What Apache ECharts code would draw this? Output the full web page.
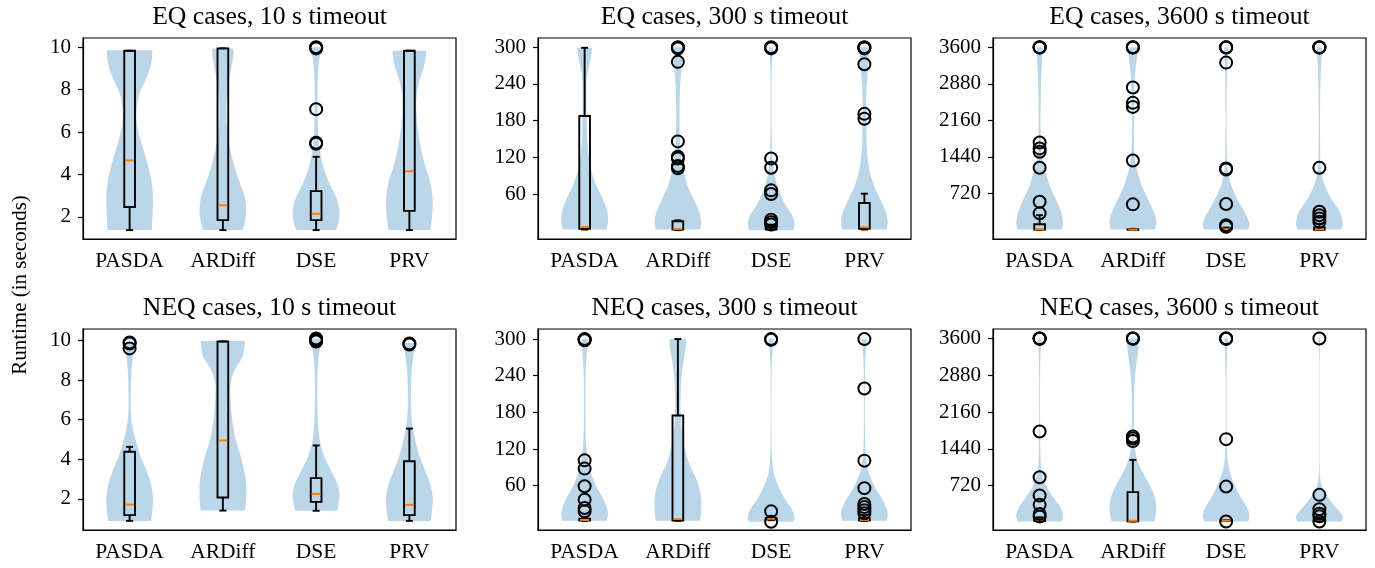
<!DOCTYPE html>
<html>
<head>
<meta charset="utf-8">
<script src="https://cdn.jsdelivr.net/npm/echarts@6/dist/echarts.min.js"></script>
<style>html,body{margin:0;padding:0;background:#fff}#c{width:1375px;height:568px}</style>
</head>
<body>
<div id="c"></div>
<script>
// ---------- data ----------
const tools = ['PASDA', 'ARDiff', 'DSE', 'PRV'];
const titles = ['EQ cases, 10 s timeout', 'EQ cases, 300 s timeout', 'EQ cases, 3600 s timeout',
                'NEQ cases, 10 s timeout', 'NEQ cases, 300 s timeout', 'NEQ cases, 3600 s timeout'];
const yLabel = 'Runtime (in seconds)';
const ticks10 = [2, 4, 6, 8, 10];
const ticks300 = [60, 120, 180, 240, 300];
const ticks3600 = [720, 1440, 2160, 2880, 3600];

// box stats per tool: [low whisker, Q1, median, Q3, high whisker]
const boxEQ10 = [[1.37, 2.46, 4.66, 9.84, 9.84], [1.37, 1.84, 2.54, 9.95, 9.95], [1.37, 1.84, 2.14, 3.21, 4.83], [1.37, 2.28, 4.15, 9.84, 9.84]];
const boxEQ300 = [[2, 3, 6, 187.6, 299], [1, 2, 3, 15.5, 17], [1, 2, 4, 6, 10], [2, 3, 5.7, 45.4, 60.6]];
const boxEQ3600 = [[0, 5, 12, 110, 290], [0, 2, 5, 10, 20], [2, 6, 12, 22, 45], [0, 3, 10, 50, 120]];
const boxNEQ10 = [[0.89, 1.18, 1.71, 4.38, 4.63], [1.41, 2.07, 4.95, 9.95, 9.95], [1.4, 1.85, 2.25, 3.05, 4.7], [0.89, 1.18, 1.7, 3.9, 5.55]];
const boxNEQ300 = [[2.6, 3, 4, 6, 9], [2.6, 3, 5.4, 175, 300], [4, 5, 6, 7, 9], [2.6, 3, 4, 7, 12]];
const boxNEQ3600 = [[15, 25, 45, 60, 100], [15, 20, 30, 591, 1223], [28, 30, 32, 35, 40], [20, 25, 40, 60, 90]];

// outliers per tool
const outEQ10 = [[], [], [9.95, 9.98, 10.0, 7.08, 5.45, 5.5], []];
const outEQ300 = [[], [300, 299, 298, 276, 146, 121, 118, 106, 102], [300, 299, 298, 118, 103, 66, 60, 18, 14, 10], [300, 299, 298, 272, 191, 183]];
const outEQ3600 = [[3600, 3598, 3595, 1724, 1606, 1540, 1224, 555, 326], [3600, 3598, 3595, 2806, 2504, 2425, 1369, 503], [3600, 3598, 3595, 3298, 1212, 1190, 510, 90, 60], [3600, 3598, 3595, 1224, 358, 290, 225, 160]];
const outNEQ10 = [[9.9, 9.85, 9.6], [], [10.1, 10.05, 10.0, 9.95], [9.85, 9.8]];
const outNEQ300 = [[300, 299, 298, 101.5, 88, 59, 37, 23.5, 18], [], [300, 299, 18, 1], [300, 219, 101, 56, 30, 25, 20, 15]];
const outNEQ3600 = [[3600, 3598, 3595, 1778, 884, 524, 342, 165, 112], [3600, 3598, 3595, 1680, 1640, 1590], [3600, 3598, 3595, 1629, 700, 15], [3600, 538, 257, 170, 120, 15]];

// violin outlines: [value, relative half-width]
const violinEQ10 = [
  [[1.37, 0.95], [2, 0.98], [2.8, 1.0], [3.6, 0.95], [4.7, 0.72], [5.5, 0.5], [6.3, 0.33], [7, 0.3], [7.8, 0.42], [8.5, 0.7], [9.2, 0.92], [9.86, 0.98]],
  [[1.37, 0.85], [1.8, 0.95], [2.3, 1.0], [3, 0.92], [4, 0.6], [5, 0.35], [6, 0.2], [7, 0.15], [8, 0.2], [9, 0.35], [9.6, 0.45], [9.95, 0.45]],
  [[1.37, 0.85], [1.7, 0.95], [2.2, 1.0], [2.8, 0.9], [3.5, 0.6], [4.2, 0.35], [5, 0.18], [5.5, 0.12], [6.5, 0.07], [7.5, 0.06], [8.5, 0.07], [9.3, 0.12], [9.8, 0.2], [10.0, 0.18]],
  [[1.37, 0.9], [2, 0.97], [2.8, 1.0], [3.6, 0.9], [4.5, 0.65], [5.5, 0.45], [6.5, 0.33], [7.5, 0.3], [8.3, 0.4], [9, 0.6], [9.5, 0.7], [9.84, 0.72]]
];
const violinEQ300 = [
  [[2, 0.95], [15, 1.0], [30, 0.98], [50, 0.8], [70, 0.55], [90, 0.35], [110, 0.22], [140, 0.13], [180, 0.09], [220, 0.08], [250, 0.1], [280, 0.25], [299, 0.33]],
  [[2, 0.95], [15, 1.0], [30, 0.92], [50, 0.7], [70, 0.45], [90, 0.3], [110, 0.18], [140, 0.1], [180, 0.07], [220, 0.08], [250, 0.12], [280, 0.18], [300, 0.2]],
  [[1, 0.95], [12, 1.0], [25, 0.9], [40, 0.65], [55, 0.45], [70, 0.3], [90, 0.15], [110, 0.08], [130, 0.04], [180, 0.02], [240, 0.02], [280, 0.05], [295, 0.08], [300, 0.08]],
  [[2, 0.95], [15, 1.0], [30, 0.92], [50, 0.7], [70, 0.45], [90, 0.28], [110, 0.17], [140, 0.1], [180, 0.08], [220, 0.08], [250, 0.12], [280, 0.18], [300, 0.2]]
];
const violinEQ3600 = [
  [[5, 0.95], [150, 1.0], [350, 0.92], [600, 0.7], [850, 0.45], [1100, 0.28], [1300, 0.15], [1500, 0.08], [1800, 0.05], [2200, 0.04], [2600, 0.05], [3000, 0.07], [3300, 0.1], [3600, 0.12]],
  [[5, 0.95], [150, 1.0], [350, 0.9], [600, 0.65], [850, 0.4], [1100, 0.22], [1300, 0.12], [1500, 0.07], [1800, 0.04], [2200, 0.04], [2600, 0.05], [3000, 0.08], [3300, 0.15], [3500, 0.2], [3600, 0.2]],
  [[5, 0.95], [120, 1.0], [300, 0.85], [500, 0.6], [700, 0.38], [900, 0.2], [1100, 0.1], [1300, 0.05], [1600, 0.03], [2200, 0.02], [2800, 0.03], [3200, 0.05], [3500, 0.09], [3600, 0.1]],
  [[5, 0.95], [150, 1.0], [350, 0.88], [550, 0.6], [750, 0.35], [950, 0.18], [1150, 0.08], [1400, 0.04], [1800, 0.03], [2400, 0.03], [3000, 0.05], [3400, 0.09], [3600, 0.12]]
];
const violinNEQ10 = [
  [[0.89, 0.92], [1.5, 0.98], [2.1, 1.0], [2.8, 0.9], [3.5, 0.7], [4.2, 0.45], [5, 0.25], [5.8, 0.1], [6.5, 0.05], [7.5, 0.05], [8.5, 0.08], [9.3, 0.15], [9.87, 0.2]],
  [[1.41, 0.95], [2, 1.0], [3, 0.98], [4, 0.8], [5, 0.55], [6, 0.4], [7, 0.33], [7.8, 0.33], [8.5, 0.5], [9.2, 0.85], [9.97, 0.95]],
  [[1.4, 0.9], [1.8, 0.97], [2.3, 1.0], [2.8, 0.9], [3.4, 0.65], [4, 0.4], [4.7, 0.2], [5.5, 0.1], [6.5, 0.06], [7.5, 0.05], [8.5, 0.07], [9.3, 0.12], [9.8, 0.2], [10.1, 0.15]],
  [[0.89, 0.92], [1.5, 0.98], [2.1, 1.0], [2.8, 0.88], [3.5, 0.65], [4.3, 0.4], [5, 0.25], [5.8, 0.12], [6.5, 0.07], [7.5, 0.07], [8.5, 0.1], [9.3, 0.18], [9.87, 0.22]]
];
const violinNEQ300 = [
  [[2.6, 0.95], [15, 1.0], [30, 0.9], [45, 0.7], [60, 0.48], [80, 0.28], [100, 0.15], [120, 0.08], [150, 0.04], [200, 0.03], [240, 0.04], [270, 0.08], [290, 0.13], [300, 0.13]],
  [[2.6, 0.95], [20, 1.0], [45, 0.98], [70, 0.8], [95, 0.5], [120, 0.3], [150, 0.18], [180, 0.12], [210, 0.12], [240, 0.16], [270, 0.27], [290, 0.35], [300, 0.35]],
  [[1, 0.95], [10, 1.0], [22, 0.88], [35, 0.65], [50, 0.42], [65, 0.25], [80, 0.12], [100, 0.05], [130, 0.02], [180, 0.015], [240, 0.02], [275, 0.05], [295, 0.1], [300, 0.1]],
  [[2.6, 0.95], [15, 1.0], [30, 0.88], [45, 0.65], [60, 0.42], [75, 0.25], [90, 0.13], [110, 0.06], [140, 0.03], [200, 0.02], [250, 0.03], [280, 0.06], [300, 0.1]]
];
const violinNEQ3600 = [
  [[15, 0.95], [150, 1.0], [300, 0.88], [450, 0.65], [600, 0.42], [750, 0.25], [900, 0.13], [1100, 0.06], [1400, 0.03], [2000, 0.02], [2800, 0.02], [3300, 0.04], [3550, 0.08], [3600, 0.08]],
  [[15, 0.92], [150, 0.98], [350, 1.0], [550, 0.9], [750, 0.7], [950, 0.45], [1150, 0.25], [1350, 0.12], [1600, 0.06], [2000, 0.04], [2500, 0.05], [2900, 0.1], [3200, 0.18], [3450, 0.24], [3600, 0.24]],
  [[15, 0.95], [150, 1.0], [300, 0.88], [500, 0.62], [700, 0.4], [900, 0.22], [1100, 0.1], [1300, 0.05], [1600, 0.025], [2200, 0.02], [2800, 0.02], [3300, 0.04], [3600, 0.08]],
  [[15, 0.95], [120, 1.0], [220, 0.85], [350, 0.6], [480, 0.38], [600, 0.2], [750, 0.08], [900, 0.03], [1200, 0.01], [2000, 0.008], [3000, 0.01], [3400, 0.02], [3600, 0.04]]
];

// ---------- layout ----------
const FONT = '"Liberation Serif", "Times New Roman", serif';
const gridLefts = [83, 538, 993];
const gridTops = [38, 329];
const GW = 373, GH = 201;
const panels = [
  { box: boxEQ10, out: outEQ10, vio: violinEQ10, ticks: ticks10, min: 0.95, max: 10.44 },
  { box: boxEQ300, out: outEQ300, vio: violinEQ300, ticks: ticks300, min: -13.5, max: 315 },
  { box: boxEQ3600, out: outEQ3600, vio: violinEQ3600, ticks: ticks3600, min: -180, max: 3783 },
  { box: boxNEQ10, out: outNEQ10, vio: violinNEQ10, ticks: ticks10, min: 0.43, max: 10.58 },
  { box: boxNEQ300, out: outNEQ300, vio: violinNEQ300, ticks: ticks300, min: -12.5, max: 316.5 },
  { box: boxNEQ3600, out: outNEQ3600, vio: violinNEQ3600, ticks: ticks3600, min: -150, max: 3785 }
];

function smoothOutline(pts) {
  // Catmull-Rom path through the outline points (drawing only)
  const res = [];
  const n = pts.length;
  for (let i = 0; i < n - 1; i++) {
    const p0 = pts[Math.max(i - 1, 0)], p1 = pts[i], p2 = pts[i + 1], p3 = pts[Math.min(i + 2, n - 1)];
    const steps = 8;
    for (let s = 0; s < steps; s++) {
      const t = s / steps, t2 = t * t, t3 = t2 * t;
      const f = (a, b, c, d) => 0.5 * ((2 * b) + (-a + c) * t + (2 * a - 5 * b + 4 * c - d) * t2 + (-a + 3 * b - 3 * c + d) * t3);
      res.push([f(p0[0], p1[0], p2[0], p3[0]), Math.max(0, f(p0[1], p1[1], p2[1], p3[1]))]);
    }
  }
  res.push(pts[n - 1]);
  return res;
}

function violinRenderer(profiles) {
  return function (params, api) {
    const k = api.value(0);
    const band = api.size([1, 0])[0];
    const half = 0.25 * band;
    const cx = api.coord([k, 0])[0];
    const pts = profiles[k].map(p => [api.coord([k, p[0]])[1], p[1] * half]);
    const sm = smoothOutline(pts);
    const right = sm.map(p => [cx + p[1], p[0]]);
    const left = sm.slice().reverse().map(p => [cx - p[1], p[0]]);
    return { type: 'polygon', shape: { points: right.concat(left) }, style: { fill: 'rgba(31,119,180,0.3)', stroke: null } };
  };
}

function boxRenderer(params, api) {
  const k = api.value(0);
  const band = api.size([1, 0])[0];
  const bw = 0.115 * band, cw = 0.075 * band;
  const cx = api.coord([k, 0])[0];
  const y = i => api.coord([k, api.value(i)])[1];
  const lo = y(1), q1 = y(2), md = y(3), q3 = y(4), hi = y(5);
  const ls = { stroke: '#000', lineWidth: 1.9, fill: 'none' };
  return {
    type: 'group', children: [
      { type: 'line', shape: { x1: cx, y1: lo, x2: cx, y2: q1 }, style: ls },
      { type: 'line', shape: { x1: cx, y1: q3, x2: cx, y2: hi }, style: ls },
      { type: 'line', shape: { x1: cx - cw / 2, y1: lo, x2: cx + cw / 2, y2: lo }, style: ls },
      { type: 'line', shape: { x1: cx - cw / 2, y1: hi, x2: cx + cw / 2, y2: hi }, style: ls },
      { type: 'rect', shape: { x: cx - bw / 2, y: q3, width: bw, height: q1 - q3 }, style: ls },
      { type: 'line', shape: { x1: cx - bw / 2 + 0.9, y1: md, x2: cx + bw / 2 - 0.9, y2: md }, style: { stroke: '#ff7f0e', lineWidth: 2 } }
    ]
  };
}

const grids = [], xAxes = [], yAxes = [], series = [], graphics = [];
panels.forEach((p, i) => {
  const left = gridLefts[i % 3], top = gridTops[Math.floor(i / 3)];
  grids.push({ left, top, width: GW, height: GH, show: true, borderColor: '#000', borderWidth: 1.2, backgroundColor: 'transparent' });
  xAxes.push({
    type: 'category', gridIndex: i, data: tools, boundaryGap: true,
    axisLine: { onZero: false, lineStyle: { color: '#000', width: 1.2 } },
    axisTick: { alignWithLabel: true, length: 5, lineStyle: { color: '#000', width: 1.2 } },
    axisLabel: { color: '#000', fontFamily: FONT, fontSize: 21.5, margin: 11 },
    splitLine: { show: false }
  });
  yAxes.push({
    type: 'value', gridIndex: i, min: p.min, max: p.max,
    axisLine: { show: true, onZero: false, lineStyle: { color: '#000', width: 1.2 } },
    axisTick: { show: true, length: 5, customValues: p.ticks, lineStyle: { color: '#000', width: 1.2 } },
    axisLabel: { color: '#000', fontFamily: FONT, fontSize: 21, margin: 12, customValues: p.ticks, formatter: v => String(v) },
    splitLine: { show: false }
  });
  series.push({
    type: 'custom', xAxisIndex: i, yAxisIndex: i, silent: true, z: 1,
    renderItem: violinRenderer(p.vio), data: tools.map((t, k) => [k])
  });
  series.push({
    type: 'custom', xAxisIndex: i, yAxisIndex: i, silent: true, z: 2,
    renderItem: boxRenderer, data: p.box.map((b, k) => [k].concat(b))
  });
  const pts = [];
  p.out.forEach((arr, k) => arr.forEach(v => pts.push([k, v])));
  series.push({
    type: 'scatter', xAxisIndex: i, yAxisIndex: i, silent: true, z: 3,
    symbol: 'circle', symbolSize: 12,
    itemStyle: { color: 'rgba(0,0,0,0)', borderColor: '#000', borderWidth: 2, opacity: 1 },
    data: pts
  });
  graphics.push({
    type: 'text', x: left + GW / 2, y: top - 21,
    style: { text: titles[i], fontFamily: FONT, fontSize: 25.7, fill: '#000', align: 'center', verticalAlign: 'middle' }
  });
});
graphics.push({
  type: 'text', x: 20, y: 285, rotation: Math.PI / 2,
  style: { text: yLabel, fontFamily: FONT, fontSize: 21, fill: '#000', align: 'center', verticalAlign: 'middle' }
});

const chart = echarts.init(document.getElementById('c'), null, { renderer: 'canvas' });
chart.setOption({
  animation: false,
  backgroundColor: '#fff',
  grid: grids, xAxis: xAxes, yAxis: yAxes, series, graphic: graphics
});
</script>
</body>
</html>
